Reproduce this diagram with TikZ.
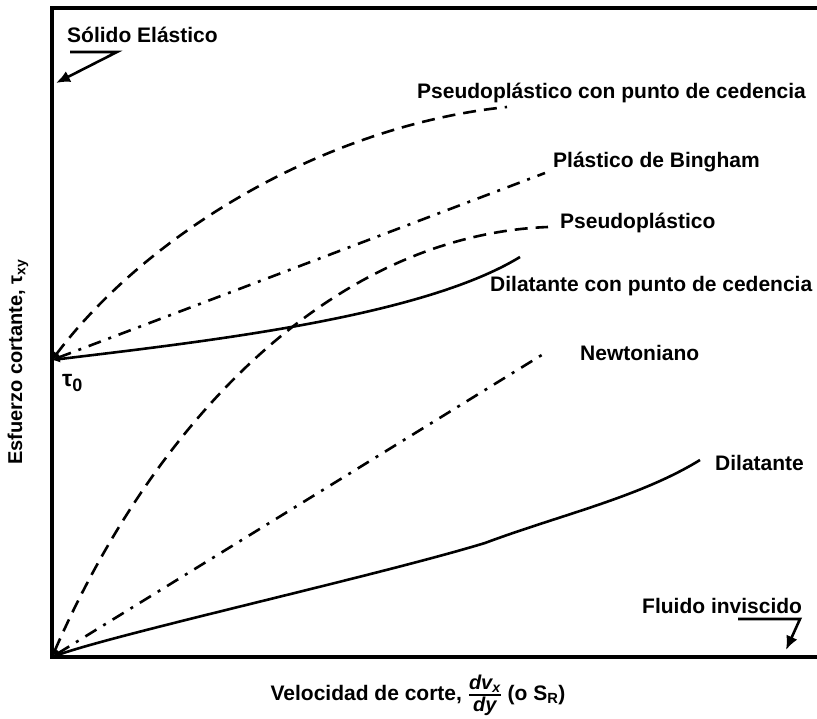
\documentclass[tikz,border=0pt]{standalone}
\usepackage{fontspec}
\setmainfont{Liberation Sans}
\usepackage{amsmath}
\usetikzlibrary{arrows.meta}
\begin{document}
\begin{tikzpicture}[x=1pt,y=-1pt,
  lbl/.style={font=\fontsize{21}{25}\selectfont\bfseries, inner sep=0pt, anchor=base west},
  axisline/.style={line width=3.5pt, line join=miter},
  curve/.style={line width=2.6pt},
  dashcurve/.style={curve, dash pattern=on 13pt off 8pt},
  dotcurve/.style={curve, dash pattern=on 13pt off 8pt on 3pt off 8pt},
  tipS/.style={{Latex[length=8pt,width=7pt]}-},
  callout/.style={line width=2.6pt, -{Latex[length=14pt,width=12pt]}}]
\useasboundingbox (0,0) rectangle (817,719);
% axes
\coordinate (O) at (52,657);
\coordinate (T) at (52,360);
\coordinate (TL) at (52,8);
\coordinate (TR) at (817,8);
\coordinate (BR) at (817,657);
\draw[axisline] (TR) -- (TL) -- (O) -- (BR);
% curve ends
\coordinate (E1) at (507,107);
\coordinate (E2) at (545,173);
\coordinate (E3) at (548,227);
\coordinate (E4) at (520,257);
\coordinate (E5) at (545,353);
\coordinate (M6) at (485,543);
\coordinate (E6) at (700,460);
% curves
\draw[dashcurve, tipS] (T) .. controls (150,230) and (330,125) .. (E1);
\draw[dotcurve, tipS] (T) -- (E2);
\draw[dashcurve, tipS] (O) .. controls (160,410) and (340,235) .. (E3);
\draw[curve, tipS] (T) .. controls (200,342) and (420,318) .. (E4);
\draw[dotcurve, tipS] (O) -- (E5);
\draw[curve, tipS] (O) .. controls (120,633) and (380,575) .. (M6) .. controls (560,515) and (640,497) .. (E6);
% labels
\node[lbl] (l1) at (67,43) {Sólido Elástico};
\node[lbl] (l2) at (417,99) {Pseudoplástico con punto de cedencia};
\node[lbl] (l3) at (553,168) {Plástico de Bingham};
\node[lbl] (l4) at (560,229) {Pseudoplástico};
\node[lbl] (l5) at (490,292) {Dilatante con punto de cedencia};
\node[lbl] (l6) at (580,361) {Newtoniano};
\node[lbl] (l7) at (715,470) {Dilatante};
\node[lbl] (l8) at (642,613) {Fluido inviscido};
\node[lbl] (tau) at (62,387) {\fontsize{23}{25}\selectfont τ\raisebox{-5pt}{\fontsize{18}{18}\selectfont 0}};
% callouts
\coordinate (s1) at (70,52);
\coordinate (s2) at (117,52);
\coordinate (s3) at (56,83);
\draw[callout] (s1) -- (s2) -- (s3);
\coordinate (f1) at (738,619);
\coordinate (f2) at (800,619);
\coordinate (f3) at (786,650);
\draw[callout] (f1) -- (f2) -- (f3);
% axis titles
\node[font=\fontsize{20}{24}\selectfont\bfseries, inner sep=0pt, rotate=90] (ylab) at (18,362) {Esfuerzo cortante, τ\textsubscript{xy}};
\node[font=\fontsize{21}{25}\selectfont\bfseries, inner sep=0pt, anchor=base] (xlab) at (418,700) {Velocidad de corte, $\genfrac{}{}{1.5pt}{1}{\mbox{\fontsize{20}{20}\selectfont\bfseries\itshape dv\textsubscript{x}}}{\mbox{\fontsize{20}{20}\selectfont\bfseries\itshape dy}}$ (o S\textsubscript{R})};
\end{tikzpicture}
\end{document}
